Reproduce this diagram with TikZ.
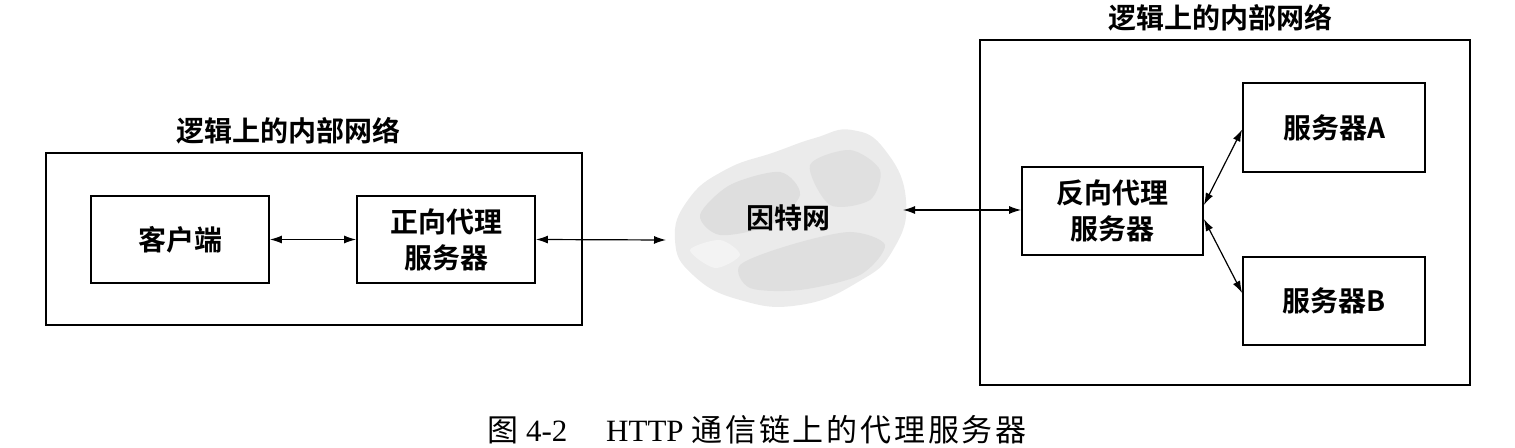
\documentclass[tikz,border=0pt]{standalone}
\usepackage{fontspec}
\setmainfont{Liberation Serif}
\newfontfamily\cjk{Noto Sans CJK SC}
\newfontfamily\cjkb{Noto Sans CJK SC Bold}
\usetikzlibrary{arrows.meta}
\begin{document}
\begin{tikzpicture}[x=0.5pt,y=-0.5pt,
  outer/.style={draw,line width=0.9pt,inner sep=0pt},
  inbox/.style={draw,line width=0.9pt,minimum width=89pt,minimum height=43.5pt,inner sep=0pt,align=center,font=\cjkb\fontsize{14}{18}\selectfont},
  ttl/.style={font=\cjkb\fontsize{14}{18}\selectfont,inner sep=0pt},
  link/.style={line width=0.6pt,{Latex[length=6pt,width=4pt]}-{Latex[length=6pt,width=4pt]}}]
\useasboundingbox (0,0) rectangle (1515,448);
% left network
\node[outer,minimum width=268pt,minimum height=86pt] (lnet) at (314,239) {};
\node[ttl] (ltitle) at (288,131) {逻辑上的内部网络};
\node[inbox] (client) at (180,239.5) {客户端};
\node[inbox] (fwd) at (446,239.5) {正向代理\\服务器};
% cloud
\fill[gray!16] plot[smooth cycle,tension=0.8] coordinates {(675,240) (688,200) (725,170) (775,152) (815,138) (852,130) (885,150) (906,200) (893,250) (858,282) (800,305) (740,300) (693,275)};
\fill[gray!30,opacity=0.7] plot[smooth cycle] coordinates {(700,215) (730,185) (780,172) (800,195) (770,225) (720,235)};
\fill[gray!30,opacity=0.6] plot[smooth cycle] coordinates {(810,165) (850,150) (880,170) (870,200) (830,205)};
\fill[gray!28,opacity=0.7] plot[smooth cycle] coordinates {(740,265) (790,245) (850,232) (885,245) (860,275) (800,290) (750,288)};
\fill[gray!8,opacity=0.8] plot[smooth cycle] coordinates {(690,250) (720,240) (740,255) (715,268)};
\node[ttl] (inet) at (788,218) {因特网};
\coordinate (cl) at (666,240);
\coordinate (cr) at (903,210);
% right network
\node[outer,minimum width=245pt,minimum height=172.5pt] (rnet) at (1225,212.5) {};
\node[ttl] (rtitle) at (1220,18) {逻辑上的内部网络};
\node[inbox,minimum width=90.5pt,minimum height=44pt] (rev) at (1112.5,211) {反向代理\\服务器};
\node[inbox,minimum width=91pt,minimum height=44.5pt] (sa) at (1334,127.5) {服务器A};
\node[inbox,minimum width=91pt,minimum height=44pt] (sb) at (1334,301) {服务器B};
% links
\draw[link] (client.east) -- (fwd.west);
\draw[link] (fwd.east) -- (cl);
\draw[link] (cr) -- (rev.west |- cr);
\draw[link] ([yshift=3pt]rev.east) -- ([yshift=-1pt]sa.west);
\draw[link] ([yshift=-4pt]rev.east) -- ([yshift=4pt]sb.west);
% caption
\node[font=\fontsize{15.5}{18}\selectfont,inner sep=0pt] (cap) at (757,430) {{\cjk 图}~4-2\quad\ HTTP~{\cjk\addfontfeature{LetterSpace=9} 通信链上的代理服务器}};
\end{tikzpicture}
\end{document}
